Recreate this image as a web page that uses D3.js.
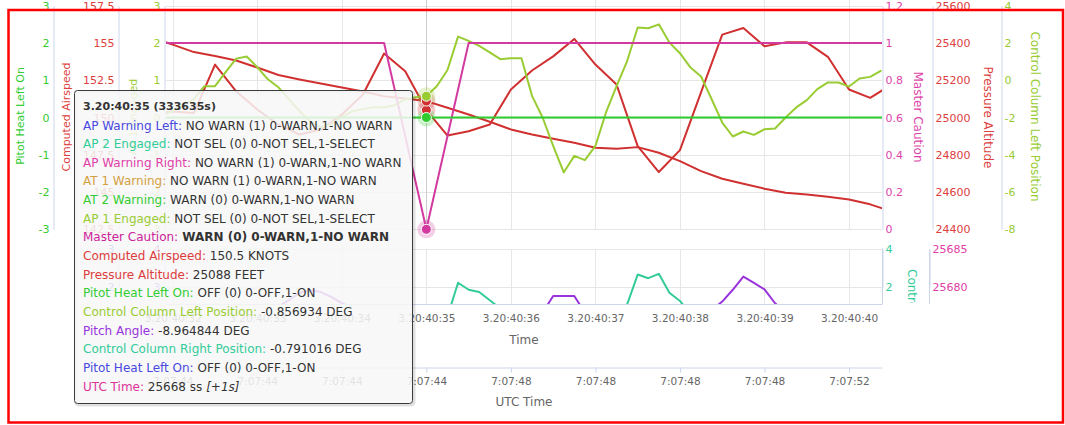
<!DOCTYPE html>
<html>
<head>
<meta charset="utf-8">
<script src="https://cdn.jsdelivr.net/npm/d3@7"></script>
<style>
  body { margin: 0; background: #fff; }
  text { font-family: "DejaVu Sans", sans-serif; }
</style>
</head>
<body>
<svg id="chart" width="1065" height="425"></svg>
<script>
// ---- data (time in seconds after 3.20:40:00) ----
const tickTimes = [32, 33, 34, 35, 36, 37, 38, 39, 40];
const timeLabels = ['3.20:40:32', '3.20:40:33', '3.20:40:34', '3.20:40:35', '3.20:40:36',
  '3.20:40:37', '3.20:40:38', '3.20:40:39', '3.20:40:40'];
const utcLabels = ['7:07:44', '7:07:44', '7:07:44', '7:07:44', '7:07:48',
  '7:07:48', '7:07:48', '7:07:48', '7:07:52'];

// 4 Hz series, first sample at 31.75 s
const fastStart = 31.75, fastStep = 0.25;
const computedAirspeed = [150.2, 150.4, 150.3, 153.55, 151.76, 150.54, 149.53, 148.86, 149.2, 150.2,
  151.54, 154.29, 153.1, 150.5, 148.79, 149.08, 149.53, 151.88, 153.15, 154.1, 155.27, 153.55,
  152.21, 148.08, 146.34, 147.81, 151.7, 155.56, 156.0, 154.78, 155.04, 155.04, 154.07, 151.88,
  151.32, 152.2];
const pressureAltitude = [25429, 25391, 25351, 25330, 25306, 25268, 25228, 25204, 25182, 25161,
  25139, 25114, 25102, 25088, 25052, 25016, 24977, 24936, 24909, 24886, 24864, 24838, 24832,
  24841, 24811, 24766, 24712, 24671, 24644, 24618, 24596, 24587, 24575, 24560, 24534, 24496];

// 8 Hz series, first sample at 31.875 s
const ccStart = 31.875, ccStep = 0.125;
const controlColumnLeft = [-1.9, -1.66, -1.29, -1.02, -0.32, -0.32, 0.43, 1.16, 1.27,
  0.70, 0.05, -0.38, -1.02, -1.66, -2.2, -2.52, -2.36, -1.98,
  -1.66, -1.55, -1.45, -1.45, -1.34, -1.02, -0.91, -0.856934,
  -0.31, 0.55, 2.34, 2.11, 1.84, 1.49, 1.13, 1.18,
  1.18, -0.84, -2.0, -3.52, -4.95, -4.06, -4.29, -3.52,
  -1.73, -0.31, 1.03, 2.83, 2.79, 3.0, 2.02, 1.45,
  0.68, 0.20, -1.02, -2.27, -3.02, -2.75, -2.93, -2.63,
  -2.59, -2.0, -1.46, -1.07, -0.48, -0.12, -0.12, -0.34,
  0.09, 0.18, 0.50];
const controlColumnRight = [-1.8, -1.6, -1.25, -1.0, -0.4, -0.35, 0.35, 1.0, 1.05,
  0.6, 0.0, -0.45, -1.0, -1.6, -2.1, -2.45, -2.3, -1.9,
  -1.6, -1.5, -1.4, -1.4, -1.3, -1.0, -0.85, -0.791016,
  -0.35, 0.46, 2.24, 1.87, 1.75, 1.32, 0.88, 1.0,
  0.98, -0.9, -2.1, -3.5, -4.8, -4.0, -4.2, -3.4,
  -1.8, -0.4, 1.1, 2.67, 2.48, 2.71, 1.71, 1.28,
  0.6, 0.1, -1.1, -2.3, -3.0, -2.8, -2.9, -2.6,
  -2.5, -2.0, -1.5, -1.1, -0.6, -0.2, -0.2, -0.4,
  0.0, 0.1, 0.4];
const pitchAngle = [-9.4, -9.35, -9.3, -9.25, -9.2, -9.2, -9.25, -9.3, -9.25,
  -9.2, -9.1, -9.0, -8.67, -8.3, -8.14, -8.25, -8.5, -8.83,
  -9.1, -9.2, -9.25, -9.2, -9.1, -9.0, -8.98, -8.964844,
  -9.1, -9.3, -9.4, -9.5, -9.55, -9.5, -9.45, -9.4,
  -9.35, -9.35, -9.33, -8.46, -8.46, -8.46, -9.33, -9.4,
  -9.5, -9.6, -9.6, -9.5, -9.4, -9.3, -9.2, -9.1,
  -9.0, -8.95, -9.2, -8.75, -8.13, -7.44, -7.77, -8.11,
  -8.84, -9.3, -9.4, -9.5, -9.5, -9.45, -9.4, -9.35,
  -9.3, -9.3, -9.25];

// 2 Hz / 1 Hz discrete series
const mcStart = 31.5, mcStep = 0.5;
const masterCaution = [1, 1, 1, 1, 1, 1, 1, 0, 1, 1, 1, 1, 1, 1, 1, 1, 1, 1, 1];
const phStart = 31, phStep = 1;
const pitotHeatLeftOn = [0, 0, 0, 0, 0, 0, 0, 0, 0, 0, 0];

const hoverTime = 35;

// tooltip rows: [label, colour, value, bold]
const tipRows = [
  ['AP Warning Left', '#4848e0', 'NO WARN (1) 0-WARN,1-NO WARN'],
  ['AP 2 Engaged', '#33cc99', 'NOT SEL (0) 0-NOT SEL,1-SELECT'],
  ['AP Warning Right', '#e040a8', 'NO WARN (1) 0-WARN,1-NO WARN'],
  ['AT 1 Warning', '#d4a040', 'NO WARN (1) 0-WARN,1-NO WARN'],
  ['AT 2 Warning', '#33cc33', 'WARN (0) 0-WARN,1-NO WARN'],
  ['AP 1 Engaged', '#99cc33', 'NOT SEL (0) 0-NOT SEL,1-SELECT'],
  ['Master Caution', '#cc2299', 'WARN (0) 0-WARN,1-NO WARN', true],
  ['Computed Airspeed', '#dd3c3c', '150.5 KNOTS'],
  ['Pressure Altitude', '#dd3c3c', '25088 FEET'],
  ['Pitot Heat Left On', '#33cc33', 'OFF (0) 0-OFF,1-ON'],
  ['Control Column Left Position', '#99cc33', '-0.856934 DEG'],
  ['Pitch Angle', '#9933dd', '-8.964844 DEG'],
  ['Control Column Right Position', '#33cc99', '-0.791016 DEG'],
  ['Pitot Heat Left On', '#4848e0', 'OFF (0) 0-OFF,1-ON'],
  ['UTC Time', '#dd3399', '25668 ss ']
];

// ---- layout ----
const plotL = 166, plotR = 882;
const upTop = 5.7, upBot = 229.3;
const lowTop = 249.3, lowBot = 304;

const red = '#d03030', green = '#2ecc2e', lime = '#99cc33', magenta = '#d23aa0',
  teal = '#33cc99', purple = '#9933dd';
const axisLine = '#ccd6eb', grid = '#e6e6e6';

const svg = d3.select('#chart');
const defs = svg.append('defs');
defs.append('clipPath').attr('id', 'clipUp').append('rect')
  .attr('x', plotL).attr('y', 0).attr('width', plotR - plotL).attr('height', upBot + 2);
defs.append('clipPath').attr('id', 'clipLow').append('rect')
  .attr('x', plotL).attr('y', lowTop - 10).attr('width', plotR - plotL).attr('height', lowBot - lowTop + 10);
defs.append('clipPath').attr('id', 'clipLowLabel').append('rect')
  .attr('x', 880).attr('y', lowTop - 5).attr('width', 60).attr('height', lowBot - lowTop + 4);

const x = d3.scaleLinear().domain([31.92, 40.39]).range([plotL, plotR]);

// upper panel scales
const yPitot = d3.scaleLinear().domain([-3, 3]).range([upBot, upTop]);
const yAirspeed = d3.scaleLinear().domain([142.5, 157.5]).range([upBot, upTop]);
const yAp1 = d3.scaleLinear().domain([-3, 3]).range([upBot, upTop]);
const yMaster = d3.scaleLinear().domain([0, 1.2]).range([upBot, upTop]);
const yAlt = d3.scaleLinear().domain([24400, 25600]).range([upBot, upTop]);
const yCcl = d3.scaleLinear().domain([-8, 4]).range([upBot, upTop]);

// lower panel scales
const yCcr = d3.scaleLinear().domain([2, 4]).range([287.3, lowTop]);
const yPitch = d3.scaleLinear().domain([-8, -6]).range([287.3, lowTop]);
const yUtc = d3.scaleLinear().domain([25680, 25685]).range([287.3, lowTop]);
const yLowA = d3.scaleLinear().domain([2, 3]).range([287.3, lowTop]);
const yLowB = d3.scaleLinear().domain([3, 4]).range([287.3, lowTop]);

// ---- grid ----
const gridG = svg.append('g');
gridG.selectAll('.hgrid').data(yPitot.ticks(6)).enter().append('line')
  .attr('x1', plotL).attr('x2', plotR)
  .attr('y1', d => Math.round(yPitot(d)) + 0.5).attr('y2', d => Math.round(yPitot(d)) + 0.5)
  .attr('stroke', grid);
gridG.selectAll('.vgrid').data(tickTimes).enter().append('line')
  .attr('x1', d => Math.round(x(d)) + 0.5).attr('x2', d => Math.round(x(d)) + 0.5)
  .attr('y1', 0).attr('y2', upBot)
  .attr('stroke', grid);
gridG.selectAll('.hgrid2').data([2, 4]).enter().append('line')
  .attr('x1', plotL).attr('x2', plotR)
  .attr('y1', d => Math.round(yCcr(d)) + 0.5).attr('y2', d => Math.round(yCcr(d)) + 0.5)
  .attr('stroke', grid);
gridG.selectAll('.vgrid2').data(tickTimes).enter().append('line')
  .attr('x1', d => Math.round(x(d)) + 0.5).attr('x2', d => Math.round(x(d)) + 0.5)
  .attr('y1', lowTop).attr('y2', lowBot)
  .attr('stroke', grid);
// hover crosshair
svg.append('line')
  .attr('x1', Math.round(x(hoverTime)) + 0.5).attr('x2', Math.round(x(hoverTime)) + 0.5)
  .attr('y1', 0).attr('y2', upBot).attr('stroke', '#cccccc');

// ---- axes ----
const plainFmt = d => String(+d.toFixed(2));
function yAxis(scale, side, xpos, color, ticks) {
  const ax = (side === 'left' ? d3.axisLeft(scale) : d3.axisRight(scale))
    .tickValues(ticks).tickFormat(plainFmt)
    .tickSize(0).tickPadding(side === 'left' ? 4 : 3).tickSizeOuter(0);
  const g = svg.append('g').attr('transform', `translate(${xpos},0)`).call(ax);
  g.select('.domain').attr('stroke', axisLine);
  g.selectAll('.tick text').attr('fill', color).attr('font-size', 11)
    .attr('font-family', '"DejaVu Sans", sans-serif');
  return g;
}
yAxis(yPitot, 'left', 53.5, '#33cc33', d3.range(-3, 4));
yAxis(yAirspeed, 'left', 118.5, '#dd4040', [142.5, 145, 147.5, 150, 152.5, 155, 157.5]);
yAxis(yAp1, 'left', 164.5, lime, d3.range(-3, 4));
yAxis(yMaster, 'right', 882.5, '#dd44aa', [0, 0.2, 0.4, 0.6, 0.8, 1, 1.2]);
yAxis(yAlt, 'right', 932.5, '#dd4040', d3.range(24400, 25601, 200));
yAxis(yCcl, 'right', 1001.5, lime, d3.range(-8, 5, 2));
yAxis(yCcr, 'right', 882.5, teal, [2, 4]);
yAxis(yUtc, 'right', 929.5, '#e040a8', [25680, 25685]);
yAxis(yLowA, 'left', 118.5, '#4848e0', [2, 3]);
yAxis(yLowB, 'left', 164.5, '#9933dd', [3, 4]);
// stretch lower-panel axis lines to panel height
svg.append('line').attr('x1', 882.5).attr('x2', 882.5).attr('y1', lowTop - 1).attr('y2', lowBot).attr('stroke', axisLine);
svg.append('line').attr('x1', 929.5).attr('x2', 929.5).attr('y1', lowTop).attr('y2', lowBot).attr('stroke', axisLine);

// time axis under lower panel
const timeAxis = svg.append('g').attr('transform', `translate(0,${lowBot})`)
  .call(d3.axisBottom(x).tickValues(tickTimes).tickFormat((d, i) => timeLabels[i])
    .tickSize(0).tickPadding(11).tickSizeOuter(0));
timeAxis.select('.domain').attr('stroke', axisLine);
timeAxis.selectAll('.tick text').attr('fill', '#666').attr('font-size', 10.5)
  .attr('font-family', '"DejaVu Sans", sans-serif');

const utcAxis = svg.append('g').attr('transform', 'translate(0,367.5)')
  .call(d3.axisBottom(x).tickValues(tickTimes).tickFormat((d, i) => utcLabels[i])
    .tickSize(5).tickPadding(5).tickSizeOuter(0));
utcAxis.select('.domain').attr('stroke', axisLine);
utcAxis.selectAll('.tick line').attr('stroke', axisLine);
utcAxis.selectAll('.tick text').attr('fill', '#666').attr('font-size', 10.5)
  .attr('font-family', '"DejaVu Sans", sans-serif');

// axis titles
function title(txt, cx, cy, rot, color, size) {
  svg.append('text')
    .attr('transform', `translate(${cx},${cy}) rotate(${rot})`)
    .attr('text-anchor', 'middle').attr('dy', '0.35em')
    .attr('font-size', size).attr('fill', color).text(txt);
}
title('Pitot Heat Left On', 20, 116, -90, '#33cc33', 11);
title('Computed Airspeed', 66, 117, -90, '#dd4040', 11);
title('AP 1 Engaged', 133, 117, -90, lime, 11);
title('Master Caution', 918, 117, 90, '#dd44aa', 12);
title('Pressure Altitude', 988, 117.5, 90, '#dd4040', 12);
title('Control Column Left Position', 1035, 116.5, 90, lime, 12);
svg.append('g').attr('clip-path', 'url(#clipLowLabel)').append('text')
  .attr('transform', 'translate(912,269) rotate(90)').attr('dy', '0.35em')
  .attr('font-size', 12).attr('fill', teal).text('Control Column Right Position');
svg.append('text').attr('x', 524).attr('y', 344).attr('text-anchor', 'middle')
  .attr('font-size', 12).attr('fill', '#666').text('Time');
svg.append('text').attr('x', 524).attr('y', 406).attr('text-anchor', 'middle')
  .attr('font-size', 12).attr('fill', '#666').text('UTC Time');

// ---- series ----
function series(clip, data, start, step, yScale, color) {
  const line = d3.line().x((d, i) => x(start + i * step)).y(d => yScale(d));
  svg.append('g').attr('clip-path', `url(#${clip})`).append('path')
    .datum(data).attr('d', line)
    .attr('fill', 'none').attr('stroke', color).attr('stroke-width', 2)
    .attr('stroke-linejoin', 'round').attr('stroke-linecap', 'round');
}
series('clipUp', pressureAltitude, fastStart, fastStep, yAlt, red);
series('clipUp', computedAirspeed, fastStart, fastStep, yAirspeed, red);
series('clipUp', controlColumnLeft, ccStart, ccStep, yCcl, lime);
series('clipUp', masterCaution, mcStart, mcStep, yMaster, magenta);
series('clipUp', pitotHeatLeftOn, phStart, phStep, yPitot, green);
series('clipLow', controlColumnRight, ccStart, ccStep, yCcr, teal);
series('clipLow', pitchAngle, ccStart, ccStep, yPitch, purple);

// hover markers
const hx = x(hoverTime);
const markers = [
  [yAirspeed(computedAirspeed[(hoverTime - fastStart) / fastStep]), red],
  [yAlt(pressureAltitude[(hoverTime - fastStart) / fastStep]), red],
  [yCcl(controlColumnLeft[(hoverTime - ccStart) / ccStep]), lime],
  [yPitot(pitotHeatLeftOn[(hoverTime - phStart) / phStep]), green],
  [yMaster(masterCaution[(hoverTime - mcStart) / mcStep]), magenta]
];
markers.forEach(([my, c]) => {
  svg.append('circle').attr('cx', hx).attr('cy', my).attr('r', 9)
    .attr('fill', c).attr('fill-opacity', 0.25);
});
markers.forEach(([my, c]) => {
  svg.append('circle').attr('cx', hx).attr('cy', my).attr('r', 5)
    .attr('fill', c).attr('stroke', '#fff').attr('stroke-width', 1);
});

// ---- tooltip ----
const tip = svg.append('g');
tip.append('rect').attr('x', 76).attr('y', 92).attr('width', 338).attr('height', 313).attr('rx', 3)
  .attr('fill', 'none').attr('stroke', '#000').attr('stroke-opacity', 0.12).attr('stroke-width', 3);
tip.append('rect').attr('x', 74.5).attr('y', 90.5).attr('width', 338).attr('height', 313).attr('rx', 3)
  .attr('fill', '#f7f7f7').attr('fill-opacity', 0.86).attr('stroke', '#3a3a3a').attr('stroke-width', 1);
tip.append('text').attr('x', 83).attr('y', 110).attr('font-size', 11).attr('font-weight', 'bold')
  .attr('fill', '#333').text('3.20:40:35 (333635s)');
tipRows.forEach((r, i) => {
  const t = tip.append('text').attr('x', 83).attr('y', 129.5 + i * 18.65).attr('font-size', 12);
  t.append('tspan').attr('fill', r[1]).text(r[0] + ':');
  t.append('tspan').attr('fill', '#333').attr('font-weight', r[3] ? 'bold' : null).text(' ' + r[2]);
  if (r[0] === 'UTC Time') t.append('tspan').attr('fill', '#333').attr('font-style', 'italic').text('[+1s]');
});

// ---- frame ----
svg.append('rect').attr('x', 8.5).attr('y', 10).attr('width', 1054.5).attr('height', 412.5)
  .attr('fill', 'none').attr('stroke', '#ff0000').attr('stroke-width', 2.5);
</script>
</body>
</html>
